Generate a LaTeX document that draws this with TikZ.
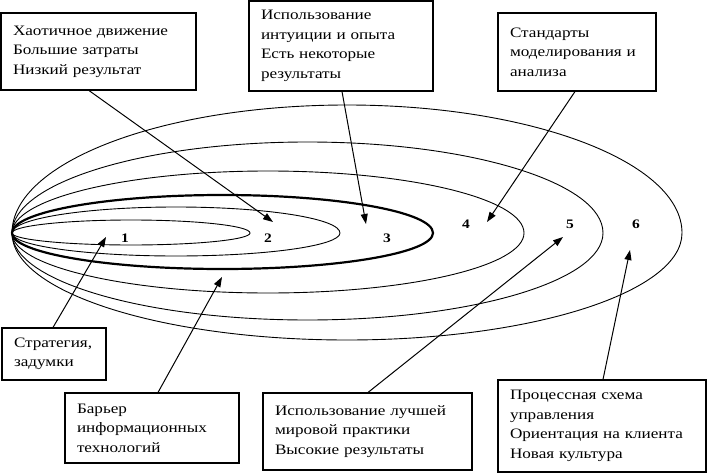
\documentclass[tikz,border=0pt]{standalone}
\usepackage{fontspec}
\setmainfont{Liberation Serif}[FakeStretch=1.19]
\usetikzlibrary{arrows.meta}
\hyphenpenalty=10000
\exhyphenpenalty=10000
\begin{document}
\begin{tikzpicture}[x=1pt,y=-1pt,
  ell/.style={line width=0.9pt},
  thickell/.style={line width=2.2pt},
  box/.style={draw, line width=1.1pt, fill=white, align=left, inner xsep=12pt, inner ysep=0pt,
              font=\fontsize{14.4}{19.5}\selectfont},
  arr/.style={line width=1pt, -{Triangle[length=10pt,width=7pt]}},
  num/.style={font=\fontsize{13}{13}\selectfont\bfseries, inner sep=0pt}]
\useasboundingbox (0,0) rectangle (709,473);

% nested ellipses sharing the left vertex
\draw[ell] (12,233) arc[start angle=180,end angle=360,x radius=119,y radius=13]
                    arc[start angle=0,end angle=180,x radius=119,y radius=12] -- cycle;
\draw[ell] (12,233) arc[start angle=180,end angle=360,x radius=164,y radius=26]
                    arc[start angle=0,end angle=180,x radius=164,y radius=23] -- cycle;
\draw[thickell] (12,233) arc[start angle=180,end angle=360,x radius=210.5,y radius=38]
                    arc[start angle=0,end angle=180,x radius=210.5,y radius=36] -- cycle;
\draw[ell] (12,233) arc[start angle=180,end angle=360,x radius=256,y radius=62]
                    arc[start angle=0,end angle=180,x radius=256,y radius=60] -- cycle;
\draw[ell] (12,233) arc[start angle=180,end angle=360,x radius=295.5,y radius=91]
                    arc[start angle=0,end angle=180,x radius=295.5,y radius=87] -- cycle;
\draw[ell] (12,233) arc[start angle=180,end angle=360,x radius=335,y radius=128]
                    arc[start angle=0,end angle=180,x radius=335,y radius=107] -- cycle;

% zone numbers
\node[num] (n1) at (125,238) {1};
\node[num] (n2) at (268,238) {2};
\node[num] (n3) at (387,238) {3};
\node[num] (n4) at (466,224) {4};
\node[num] (n5) at (570,224) {5};
\node[num] (n6) at (636,224) {6};

% boxes
\node[box, text width=171, minimum height=77] (A) at (98.5,51.5)
  {Хаотичное движение\\Большие затраты\\Низкий результат};
\node[box, text width=160, minimum height=90] (B) at (341,46)
  {Использование\\интуиции и опыта\\Есть некоторые\\результаты};
\node[box, text width=134, minimum height=78] (C) at (577,52)
  {Стандарты\\моделирования и\\анализа};
\node[box, text width=80, minimum height=52] (D) at (54,354)
  {Стратегия,\\задумки};
\node[box, text width=150, minimum height=70] (E) at (152,428)
  {Барьер\\информационных\\технологий};
\node[box, text width=185, minimum height=77] (F) at (367.5,431.5)
  {Использование лучшей\\мировой практики\\Высокие результаты};
\node[box, text width=184, minimum height=92] (G) at (602,426)
  {Процессная схема\\управления\\Ориентация на клиента\\Новая культура};

% arrow tips
\coordinate (t1) at (273,222);
\coordinate (t2) at (366,224);
\coordinate (t3) at (487,222);
\coordinate (t4) at (106,237);
\coordinate (t5) at (222,277);
\coordinate (t6) at (563,237);
\coordinate (t7) at (630,250);

\draw[arr] ([xshift=-9.5]A.south) -- (t1);
\draw[arr] ([xshift=1]B.south) -- (t2);
\draw[arr] ([xshift=-2]C.south) -- (t3);
\draw[arr] ([xshift=-1]D.north) -- (t4);
\draw[arr] ([xshift=6]E.north) -- (t5);
\draw[arr] ([xshift=0.5]F.north) -- (t6);
\draw[arr] ([xshift=1]G.north) -- (t7);
\end{tikzpicture}
\end{document}
